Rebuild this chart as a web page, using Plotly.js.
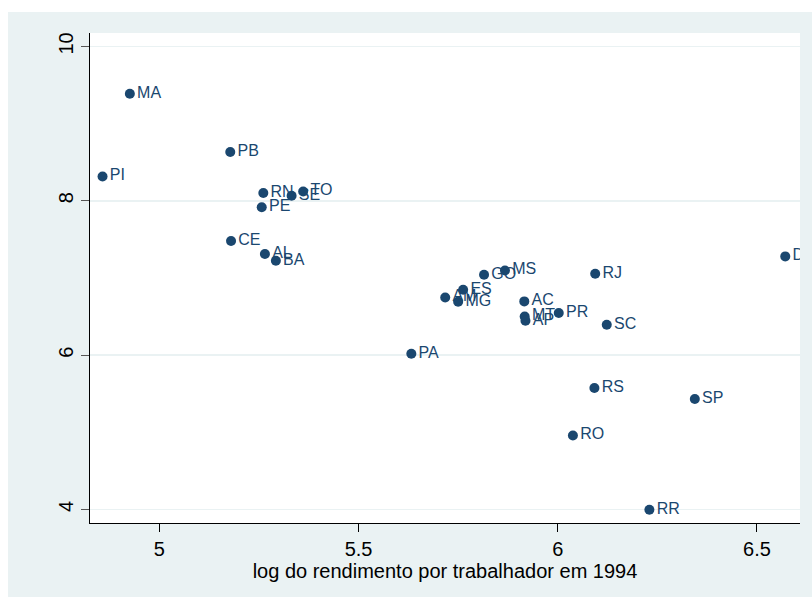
<!DOCTYPE html>
<html>
<head>
<meta charset="utf-8">
<script src="https://cdn.plot.ly/plotly-3.0.1.min.js"></script>
<style>
html,body{margin:0;padding:0;background:#ffffff;width:812px;height:597px;overflow:hidden;}
#chart{position:absolute;left:8px;top:12px;width:804px;height:585px;}
</style>
</head>
<body>
<div id="chart"></div>
<script>
const states = ["MA","PB","PI","RN","SE","TO","PE","CE","AL","BA","DF","RJ","MS","GO","ES","AM","MG","AC","MT","AP","PR","SC","PA","RS","SP","RO","RR"];
const logIncome = [4.926,5.178,4.8575,5.261,5.332,5.361,5.257,5.180,5.265,5.2925,6.571,6.094,5.8675,5.815,5.7625,5.7175,5.750,5.916,5.917,5.919,6.0025,6.123,5.6325,6.092,6.344,6.038,6.230];
const yValues = [9.387,8.632,8.315,8.100,8.065,8.121,7.916,7.478,7.310,7.223,7.279,7.055,7.097,7.042,6.847,6.747,6.692,6.696,6.501,6.445,6.545,6.394,6.018,5.573,5.431,4.959,3.996];
const xTicks = [5,5.5,6,6.5];
const xTickText = ["5","5.5","6","6.5"];
const yTicks = [4,6,8,10];
const yTickText = ["4","6","8","10"];
const xTitle = "log do rendimento por trabalhador em 1994";

const navy = "#1a476f";
const bg = "#eaf2f3";

const trace = {
  x: logIncome,
  y: yValues,
  text: states,
  mode: "markers+text",
  type: "scatter",
  textposition: "middle right",
  cliponaxis: true,
  marker: {color: navy, size: 10, line: {width: 0}},
  textfont: {family: "Liberation Sans, Arial, sans-serif", size: 16, color: navy},
  hoverinfo: "none"
};

const layout = {
  width: 804,
  height: 585,
  paper_bgcolor: bg,
  plot_bgcolor: "#ffffff",
  showlegend: false,
  margin: {l: 81.5, r: 11.5, t: 21.3, b: 73.7, pad: 0},
  font: {family: "Liberation Sans, Arial, sans-serif", color: "#000000"},
  xaxis: {
    range: [4.826, 6.608],
    tickvals: xTicks,
    ticktext: xTickText,
    ticks: "outside",
    ticklen: 8,
    tickwidth: 1,
    tickcolor: "#000000",
    tickfont: {size: 20, color: "#000000"},
    showgrid: false,
    zeroline: false,
    showline: true,
    linecolor: "#000000",
    linewidth: 1,
    title: {text: xTitle, font: {size: 20, color: "#000000"}, standoff: 0}
  },
  yaxis: {
    range: [3.824, 10.174],
    tickvals: yTicks,
    ticktext: yTickText,
    ticks: "outside",
    ticklen: 8,
    tickwidth: 1,
    tickcolor: "#555555",
    tickangle: -90,
    tickfont: {size: 20, color: "#000000"},
    showgrid: true,
    gridcolor: bg,
    gridwidth: 1.5,
    zeroline: false,
    showline: true,
    linecolor: "#000000",
    linewidth: 1
  }
};

Plotly.newPlot("chart", [trace], layout, {displayModeBar: false, staticPlot: true});
</script>
</body>
</html>
